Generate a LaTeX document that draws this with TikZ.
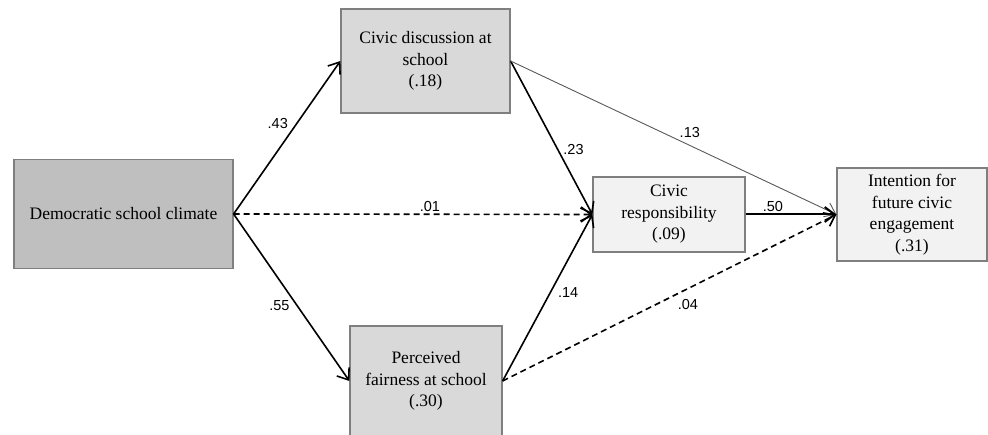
\documentclass[tikz,border=0pt]{standalone}
\usepackage{fontspec}
\setmainfont{Liberation Serif}
\setsansfont{Liberation Sans}
\usetikzlibrary{arrows.meta}

\definecolor{boxdark}{HTML}{BFBFBF}
\definecolor{boxmid}{HTML}{D9D9D9}
\definecolor{boxlight}{HTML}{F2F2F2}
\definecolor{boxline}{HTML}{7F7F7F}
\definecolor{weakline}{HTML}{595959}

\begin{document}
\begin{tikzpicture}[x=1pt, y=-1pt,
    box/.style={draw=boxline, line width=1.2pt, align=center, inner sep=0pt,
      font=\fontsize{17.5}{21.5}\selectfont},
    effect/.style={black, line width=1.6pt, -{Straight Barb[length=10pt,width=15pt]}},
    coef/.style={text=black, font=\sffamily\fontsize{14.5}{16}\selectfont, inner sep=1pt}]
      \useasboundingbox (0,0) rectangle (988,435);
      \clip (0,0) rectangle (988,435);

      %% boxes
      \node[box, fill=boxdark, minimum width=219, minimum height=109] (dsc) at (123.5,214) {Democratic school climate};
      \node[box, fill=boxmid, minimum width=169, minimum height=104] (cd) at (425.5,61) {Civic discussion at\\school\\(.18)};
      \node[box, fill=boxmid, minimum width=152, minimum height=110] (pf) at (426,381) {Perceived\\fairness at school\\(.30)};
      \node[box, fill=boxlight, minimum width=152, minimum height=75] (cr) at (669,214.5) {Civic\\responsibility\\(.09)};
      \node[box, fill=boxlight, minimum width=150, minimum height=93] (int) at (912,214.5) {Intention for\\future civic\\engagement\\(.31)};

      %% paths
      \draw[effect] (dsc.east) -- (cd.west) node[coef, pos=0.59, left=7pt] {.43};
      \draw[effect] (dsc.east) -- (pf.west) node[coef, pos=0.55, left=6pt] {.55};
      \draw[effect, dash pattern=on 6pt off 4pt] (dsc.east) -- (cr.west) node[coef, pos=0.547, above=1pt] {.01};
      \draw[effect] (cd.east) -- (cr.west) node[coef, pos=0.575, right=4pt] {.23};
      \draw[effect] (pf.east) -- (cr.west) node[coef, pos=0.53, right=6pt] {.14};
      \draw[effect, weakline, line width=0.9pt] (cd.east) -- (int.west) node[coef, pos=0.55, above=6pt] {.13};
      \draw[effect, line width=2pt] (cr.east) -- (int.west) node[coef, pos=0.30, above=1pt] {.50};
      \draw[effect, dash pattern=on 6pt off 4pt] (pf.east) -- (int.west) node[coef, pos=0.555, below=9pt] {.04};

\end{tikzpicture}
\end{document}
